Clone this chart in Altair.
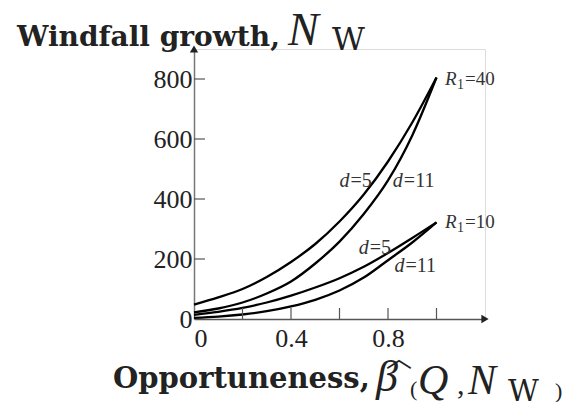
import altair as alt
import pandas as pd

# ---- data ----
beta = [0.0, 0.1, 0.2, 0.3, 0.4, 0.5, 0.6, 0.7, 0.8, 0.9, 1.0]
nw_r40_d5 = [48, 72, 100, 140, 190, 250, 325, 415, 525, 655, 805]
nw_r40_d11 = [22, 35, 55, 85, 125, 185, 258, 350, 462, 612, 805]
nw_r10_d5 = [14, 24, 37, 55, 78, 105, 136, 174, 220, 270, 322]
nw_r10_d11 = [4, 8, 15, 26, 42, 64, 95, 138, 196, 255, 322]

series_names = ["R40_d5", "R40_d11", "R10_d5", "R10_d11"]
series_values = [nw_r40_d5, nw_r40_d11, nw_r10_d5, nw_r10_d11]

x_tick_marks = [0.2, 0.4, 0.6, 0.8, 1.0]
x_tick_labels = [0, 0.4, 0.8]
y_tick_marks = [200, 400, 600, 800]
y_tick_labels = [0, 200, 400, 600, 800]
x_axis_max = 1.2
y_axis_max = 900

# curve labels: (beta, N, italic symbol, rest)
d_label_x = [0.60, 0.82, 0.679, 0.827]
d_label_y = [461, 461, 238, 178]
d_label_rest = ["=5", "=11", "=5", "=11"]
r_label_x = [1.035, 1.035]
r_label_y = [801, 324]
r_label_rest = ["=40", "=10"]

W, H = 291, 270
SERIF = "Liberation Serif"

rows = []
for name, vals in zip(series_names, series_values):
    for b, v in zip(beta, vals):
        rows.append({"beta": b, "nw": v, "series": name})
df = pd.DataFrame(rows)

xs = alt.Scale(domain=[0, x_axis_max], nice=False, zero=False)
ys = alt.Scale(domain=[0, y_axis_max], nice=False, zero=False)

lines = alt.Chart(df).mark_line(color="black", strokeWidth=2.3, interpolate="monotone").encode(
    x=alt.X("beta:Q", scale=xs,
            axis=alt.Axis(values=x_tick_labels, title=None, grid=False, ticks=False,
                          domainColor="#555", domainWidth=1.5,
                          labelFont=SERIF, labelFontSize=26, labelColor="#222",
                          labelPadding=6,
                          labelExpr="datum.value == 0 ? '0' : format(datum.value, '.1f')")),
    y=alt.Y("nw:Q", scale=ys,
            axis=alt.Axis(values=y_tick_labels, title=None, grid=False, ticks=False,
                          domainColor="#777", domainWidth=1.5,
                          labelFont=SERIF, labelFontSize=26, labelColor="#222",
                          labelPadding=2)),
    detail="series:N",
)

xt = alt.Chart(pd.DataFrame({"t": x_tick_marks})).mark_rule(color="#555", strokeWidth=1.2).encode(
    x=alt.X("t:Q", scale=xs), y=alt.value(H), y2=alt.value(H - 11))
yt = alt.Chart(pd.DataFrame({"t": y_tick_marks})).mark_rule(color="#555", strokeWidth=1.2).encode(
    y=alt.Y("t:Q", scale=ys), x=alt.value(0), x2=alt.value(11))

arrow_x = alt.Chart(pd.DataFrame({"x": [x_axis_max], "y": [0]})).mark_point(
    shape="triangle-right", filled=True, size=70, color="#222", opacity=1).encode(
    x=alt.X("x:Q", scale=xs), y=alt.Y("y:Q", scale=ys))
arrow_y = alt.Chart(pd.DataFrame({"x": [0], "y": [y_axis_max]})).mark_point(
    shape="triangle-up", filled=True, size=70, color="#222", opacity=1).encode(
    x=alt.X("x:Q", scale=xs), y=alt.Y("y:Q", scale=ys))

dl = pd.DataFrame({"x": d_label_x, "y": d_label_y, "sym": ["d"] * 4, "rest": d_label_rest})
d_sym = alt.Chart(dl).mark_text(font=SERIF, fontStyle="italic", fontSize=20, align="left",
                                baseline="middle", color="#333").encode(
    x=alt.X("x:Q", scale=xs), y=alt.Y("y:Q", scale=ys), text="sym:N")
d_rest = alt.Chart(dl).mark_text(font=SERIF, fontSize=20, align="left", baseline="middle",
                                 dx=11, color="#333").encode(
    x=alt.X("x:Q", scale=xs), y=alt.Y("y:Q", scale=ys), text="rest:N")

rl = pd.DataFrame({"x": r_label_x, "y": r_label_y, "sym": ["R", "R"], "sub": ["1", "1"],
                   "rest": r_label_rest})
r_sym = alt.Chart(rl).mark_text(font=SERIF, fontStyle="italic", fontSize=19, align="left",
                                baseline="middle", color="#333").encode(
    x=alt.X("x:Q", scale=xs), y=alt.Y("y:Q", scale=ys), text="sym:N")
r_sub = alt.Chart(rl).mark_text(font=SERIF, fontSize=14, align="left", baseline="middle",
                                dx=12, dy=6, color="#333").encode(
    x=alt.X("x:Q", scale=xs), y=alt.Y("y:Q", scale=ys), text="sub:N")
r_rest = alt.Chart(rl).mark_text(font=SERIF, fontSize=19, align="left", baseline="middle",
                                 dx=20, color="#333").encode(
    x=alt.X("x:Q", scale=xs), y=alt.Y("y:Q", scale=ys), text="rest:N")


def txt(s, x, y, size, font=SERIF, style="normal", weight="normal"):
    return alt.Chart(pd.DataFrame({"s": [s]})).mark_text(
        font=font, fontSize=size, fontStyle=style, fontWeight=weight, align="left",
        baseline="alphabetic", color="#222").encode(
        x=alt.value(x), y=alt.value(y), text="s:N")


titles = [
    txt("Windfall growth,", -177, -3, 28, font="DejaVu Serif", weight="bold"),
    txt("N", 94, -4, 46, style="italic"),
    txt("W", 138, 1, 32, font="DejaVu Serif"),
    txt("Opportuneness,", -81, 339, 29, font="DejaVu Serif", weight="bold"),
    txt("β", 182, 342, 44, style="italic"),
    txt("︿", 192, 318, 26, font="Noto Sans CJK SC"),
    txt("(", 216, 347, 22),
    txt("Q", 224, 345, 42, style="italic"),
    txt(",", 263, 345, 30),
    txt("N", 274, 345, 42, style="italic"),
    txt("W", 314, 352, 30, font="DejaVu Serif"),
    txt(")", 361, 349, 22),
]

chart = alt.layer(lines, xt, yt, arrow_x, arrow_y, d_sym, d_rest, r_sym, r_sub, r_rest,
                  *titles).properties(
    width=W, height=H,
    autosize=alt.AutoSizeParams(type="none"),
    padding={"left": 186, "top": 41, "right": 82, "bottom": 83},
).configure_view(stroke=None).configure(background="white")

chart.save("out.html", embed_options={"renderer": "svg", "actions": False})
